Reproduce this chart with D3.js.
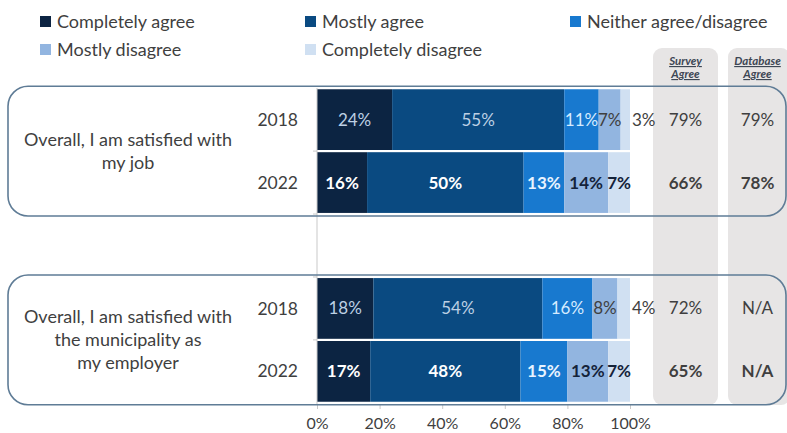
<!DOCTYPE html>
<html>
<head>
<meta charset="utf-8">
<script src="https://cdn.jsdelivr.net/npm/d3@7"></script>
<style>
  html, body { margin: 0; padding: 0; background: #ffffff; }
  svg { display: block; font-family: Lato, "Open Sans", sans-serif; }
</style>
</head>
<body>
<svg id="chart" width="787" height="433"></svg>
<script>
// Response categories, in stacking order
const responses = ["Completely agree", "Mostly agree", "Neither agree/disagree", "Mostly disagree", "Completely disagree"];
const responseColors = ["#0c2442", "#0a4a81", "#1879cf", "#92b5e0", "#d0e0f2"];

// Rows of the chart (one blank row separates the two questions)
const rowKeys = ["job-2018", "job-2022", "gap", "emp-2018", "emp-2022"];
const rowYears = ["2018", "2022", "", "2018", "2022"];

// Share of respondents per response, per row
const job2018 = [24, 55, 11, 7, 3];
const job2022 = [16, 50, 13, 14, 7];
const emp2018 = [18, 54, 16, 8, 4];
const emp2022 = [17, 48, 15, 13, 7];

// Agreement summaries
const surveyAgree = ["79%", "66%", "", "72%", "65%"];
const databaseAgree = ["79%", "78%", "", "N/A", "N/A"];

const questions = [
  { lines: ["Overall, I am satisfied with", "my job"], rows: ["job-2018", "job-2022"] },
  { lines: ["Overall, I am satisfied with", "the municipality as", "my employer"], rows: ["emp-2018", "emp-2022"] }
];

const xTicks = [0, 20, 40, 60, 80, 100];

const rowValues = { "job-2018": job2018, "job-2022": job2022, "emp-2018": emp2018, "emp-2022": emp2022 };

const svg = d3.select("#chart");
const textColor = "#3f3f3f";
const labelSize = 17;

const x = d3.scaleLinear().domain([0, 100]).range([317, 630]);
const y = d3.scaleBand().domain(rowKeys).range([88, 403]).paddingInner(0.035).paddingOuter(0.02);
const color = d3.scaleOrdinal().domain(responses).range(responseColors);

// Grey summary columns
const cols = [
  { name: ["Survey", "Agree"], x0: 653, x1: 718, vals: surveyAgree },
  { name: ["Database", "Agree"], x0: 728, x1: 790, vals: databaseAgree }
];
cols.forEach(c => {
  svg.append("rect")
    .attr("x", c.x0).attr("y", 48)
    .attr("width", c.x1 - c.x0).attr("height", 357)
    .attr("rx", 9).attr("fill", "#e7e5e5");
  const cx = (c.x0 + Math.min(c.x1, 787)) / 2;
  c.name.forEach((t, i) => {
    svg.append("text")
      .attr("x", cx).attr("y", 65 + i * 13)
      .attr("text-anchor", "middle")
      .attr("font-size", 11.5).attr("font-style", "italic").attr("font-weight", "bold")
      .attr("text-decoration", "underline")
      .attr("fill", "#3d4654")
      .text(t);
  });
  c.vals.forEach((v, i) => {
    if (!v) return;
    const key = rowKeys[i];
    svg.append("text")
      .attr("x", cx).attr("y", y(key) + y.bandwidth() / 2)
      .attr("dy", "0.35em")
      .attr("text-anchor", "middle")
      .attr("font-size", labelSize)
      .attr("font-weight", key.endsWith("2022") ? "bold" : "normal")
      .attr("fill", textColor)
      .text(v);
  });
});

// Stacked bars
rowKeys.forEach(key => {
  const vals = rowValues[key];
  if (!vals) return;
  const stacked = d3.cumsum(vals);
  const bold = key.endsWith("2022");
  const g = svg.append("g");
  vals.forEach((v, i) => {
    const start = i === 0 ? 0 : stacked[i - 1];
    const end = stacked[i];
    g.append("rect")
      .attr("x", x(start)).attr("y", y(key))
      .attr("width", x(end) - x(start)).attr("height", y.bandwidth())
      .attr("fill", color(responses[i]));
  });
  vals.forEach((v, i) => {
    const start = i === 0 ? 0 : stacked[i - 1];
    const end = stacked[i];
    let lx = (x(start) + x(end)) / 2;
    let anchor = "middle";
    if (v < 5) { lx = x(end) + 2; anchor = "start"; }
    let fill;
    if (bold) {
      fill = i <= 1 ? "#ffffff" : (i === 2 ? "#e8f3ff" : "#14233a");
    } else {
      fill = i <= 1 ? "#bdd0e4" : (i === 2 ? "#d6ebff" : textColor);
    }
    g.append("text")
      .attr("x", lx).attr("y", y(key) + y.bandwidth() / 2)
      .attr("dy", "0.35em")
      .attr("text-anchor", anchor)
      .attr("font-size", labelSize)
      .attr("font-weight", bold ? "bold" : "normal")
      .attr("fill", fill)
      .text(v + "%");
  });
});

// Category axis line with boundary ticks
const yAxis = svg.append("g");
yAxis.append("line")
  .attr("x1", x(0)).attr("x2", x(0)).attr("y1", 88).attr("y2", 404)
  .attr("stroke", "#c9c9c9").attr("stroke-width", 1);
rowKeys.slice(1).forEach(key => {
  const yb = y(key) - y.step() * y.paddingInner() / 2;
  yAxis.append("line")
    .attr("x1", x(0) - 4).attr("x2", x(0)).attr("y1", yb).attr("y2", yb)
    .attr("stroke", "#c9c9c9");
});

// Year labels
rowKeys.forEach((key, i) => {
  if (!rowYears[i]) return;
  svg.append("text")
    .attr("x", 298).attr("y", y(key) + y.bandwidth() / 2)
    .attr("dy", "0.35em")
    .attr("text-anchor", "end")
    .attr("font-size", 17.5)
    .attr("fill", textColor)
    .text(rowYears[i]);
});

// Percentage axis
const xAxis = d3.axisBottom(x).tickValues(xTicks).tickFormat(d => d + "%").tickSize(5).tickSizeOuter(0);
const xg = svg.append("g").attr("transform", "translate(0,404)").call(xAxis);
xg.select(".domain").attr("stroke", "#c9c9c9");
xg.selectAll(".tick line").attr("stroke", "#c9c9c9");
xg.selectAll(".tick text")
  .attr("y", 14)
  .attr("font-family", "Lato, 'Open Sans', sans-serif")
  .attr("font-size", 16).attr("fill", textColor);

// Question frames and labels
questions.forEach(q => {
  const top = y(q.rows[0]) - 3;
  const bottom = y(q.rows[1]) + y.bandwidth() + 3;
  svg.append("rect")
    .attr("x", 8).attr("y", top)
    .attr("width", 778).attr("height", bottom - top)
    .attr("rx", 20)
    .attr("fill", "none")
    .attr("stroke", "#5f7c96").attr("stroke-width", 1.6);
  const mid = (top + bottom) / 2;
  const lh = 23;
  q.lines.forEach((t, i) => {
    svg.append("text")
      .attr("x", 128)
      .attr("y", mid + (i - (q.lines.length - 1) / 2) * lh)
      .attr("dy", "0.35em")
      .attr("text-anchor", "middle")
      .attr("font-size", 18)
      .attr("fill", textColor)
      .text(t);
  });
});

// Legend
const legendPos = [
  { x: 40, y: 22 }, { x: 305, y: 22 }, { x: 570, y: 22 },
  { x: 40, y: 50 }, { x: 305, y: 50 }
];
responses.forEach((r, i) => {
  const p = legendPos[i];
  svg.append("rect")
    .attr("x", p.x).attr("y", p.y - 6)
    .attr("width", 11).attr("height", 11)
    .attr("fill", color(r));
  svg.append("text")
    .attr("x", p.x + 17).attr("y", p.y)
    .attr("dy", "0.35em")
    .attr("font-size", 18)
    .attr("fill", textColor)
    .text(r);
});
</script>
</body>
</html>
